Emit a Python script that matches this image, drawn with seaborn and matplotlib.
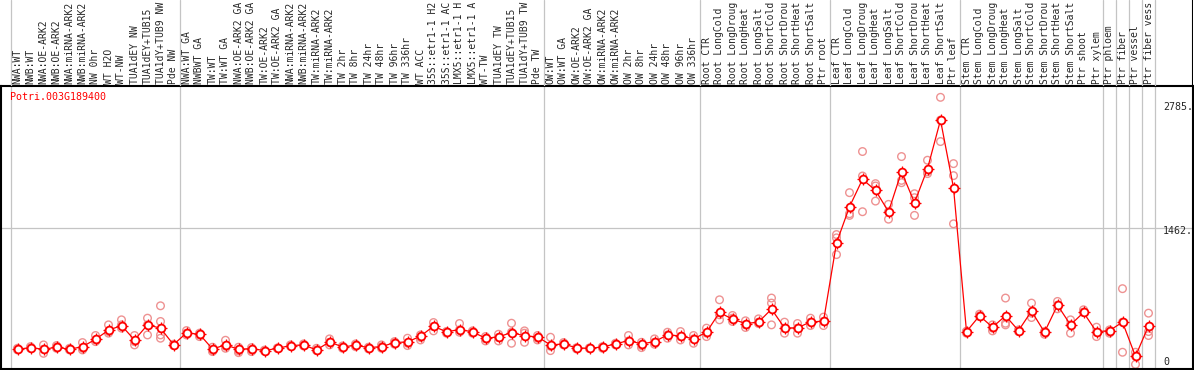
import numpy as np
import pandas as pd
import matplotlib
matplotlib.use("Agg")
import matplotlib.pyplot as plt
import seaborn as sns

gene = "Potri.003G189400"

samples = [
    # group 1
    "NWA:WT", "NWB:WT", "NWA:OE-ARK2", "NWB:OE-ARK2", "NWA:miRNA-ARK2", "NWB:miRNA-ARK2",
    "NW 0hr", "WT H2O", "WT-NW", "TUA1dEY NW", "TUA1dEY+TUB15", "TUA1dY+TUB9 NW", "Pde NW",
    # group 2
    "NWA:WT GA", "NWBWT GA", "TW:WT", "TW:WT GA", "NWA:OE-ARK2 GA", "NWB:OE-ARK2 GA",
    "TW:OE-ARK2", "TW:OE-ARK2 GA", "NWA:miRNA-ARK2 GA", "NWB:miRNA-ARK2 GA", "TW:miRNA-ARK2",
    "TW:miRNA-ARK2 GA", "TW 2hr", "TW 8hr", "TW 24hr", "TW 48hr", "TW 96hr", "TW 336hr", "WT ACC",
    "35S::etr1-1 H2O", "35S::etr1-1 ACC", "LMX5::etr1-1 H2O", "LMX5::etr1-1 ACC", "WT-TW",
    "TUA1dEY TW", "TUA1dEY+TUB15 TW", "TUA1dY+TUB9 TW", "Pde TW",
    # group 3
    "OW:WT", "OW:WT GA", "OW:OE-ARK2", "OW:OE-ARK2 GA", "OW:miRNA-ARK2", "OW:miRNA-ARK2 GA",
    "OW 2hr", "OW 8hr", "OW 24hr", "OW 48hr", "OW 96hr", "OW 336hr",
    # root
    "Root CTR", "Root LongCold", "Root LongDrought", "Root LongHeat", "Root LongSalt",
    "Root ShortCold", "Root ShortDrought", "Root ShortHeat", "Root ShortSalt", "Ptr root",
    # leaf
    "Leaf CTR", "Leaf LongCold", "Leaf LongDrought", "Leaf LongHeat", "Leaf LongSalt",
    "Leaf ShortCold", "Leaf ShortDrought", "Leaf ShortHeat", "Leaf ShortSalt", "Ptr leaf",
    # stem
    "Stem CTR", "Stem LongCold", "Stem LongDrought", "Stem LongHeat", "Stem LongSalt",
    "Stem ShortCold", "Stem ShortDrought", "Stem ShortHeat", "Stem ShortSalt", "Ptr shoot",
    "Ptr xylem",
    # tissues
    "Ptr phloem", "Ptr fiber", "Ptr vessel", "Ptr fiber vessel",
]

# index of first sample of each group (group borders)
group_starts = [0, 13, 41, 53, 63, 73, 84, 85, 86, 87, 88]

mean_expr = [
    204, 221, 204, 225, 204, 231, 307, 401, 449, 300, 456, 422, 252,
    373, 359, 207, 249, 204, 211, 190, 214, 242, 249, 197, 280, 228, 245, 221, 231,
    273, 280, 339, 442, 384, 408, 384, 318, 332, 377, 342, 332,
    249, 259, 218, 214, 228, 259, 294, 259, 283, 352, 342, 311,
    380, 584, 515, 470, 484, 619, 425, 425, 487, 494,
    1303, 1676, 1960, 1846, 1625, 2039, 1718, 2070, 2572, 1873,
    387, 550, 432, 550, 397, 598, 380, 660, 456, 584, 384,
    397, 484, 131, 446,
]

replicates = [
    [197, 204, 214], [231, 214, 218], [249, 204, 162], [242, 228, 214], [214, 197, 204],
    [273, 214, 197], [346, 300, 283], [456, 387, 370], [508, 456, 422], [346, 283, 249],
    [525, 456, 352], [653, 491, 352, 318], [256, 242, 252],
    [397, 370, 352], [370, 352, 335], [225, 190, 180], [297, 235, 214], [225, 187, 169],
    [221, 197, 180], [190, 195, 185], [214, 218, 210], [249, 235, 242], [259, 238, 249],
    [214, 190, 197], [311, 276, 249], [238, 214, 228], [259, 231, 245], [225, 207, 221],
    [249, 214, 231], [283, 256, 273], [318, 266, 242], [352, 325, 300], [480, 439, 394],
    [387, 370, 384], [470, 404, 380], [394, 370, 384], [335, 311, 290], [359, 325, 290],
    [473, 380, 266], [394, 370, 276], [346, 318, 300],
    [328, 235, 190], [273, 249, 259], [218, 207, 218], [214, 210, 218], [228, 214, 230],
    [266, 249, 259], [346, 290, 249], [276, 242, 221], [311, 276, 256], [380, 352, 318],
    [387, 335, 300], [346, 311, 266],
    [422, 370, 335], [715, 560, 508], [553, 525, 491], [498, 456, 429], [518, 484, 470],
    [733, 681, 456], [484, 422, 370], [470, 422, 370], [525, 484, 449], [536, 491, 449],
    [1389, 1355, 1182], [1822, 1604, 1587], [2247, 1994, 1625], [1915, 1891, 1735],
    [1701, 1625, 1548], [2195, 1949, 1925], [1811, 1770, 1587], [2157, 2039, 2019],
    [2807, 2572, 2350], [2122, 1998, 1500],
    [387, 370, 390], [567, 543, 550], [456, 422, 394], [733, 473, 456], [404, 387, 397],
    [681, 577, 532], [387, 359, 380], [698, 622, 660], [508, 456, 370], [612, 588, 584],
    [432, 380, 335],
    [404, 387, 370], [830, 484, 173], [173, 131, 48], [577, 387, 346],
]

y_grid = 1462
y_max = 2924
y_label_vals = [2710, 1424, 73]
y_label_text = ["2785.", "1462.", "0"]

# long-form tables
means_df = pd.DataFrame({"pos": np.arange(len(samples)), "expr": mean_expr})
reps_df = pd.DataFrame(
    [(i, v) for i, reps in enumerate(replicates) for v in reps], columns=["pos", "expr"]
)

sns.set_style("white")
plt.rcParams["font.family"] = ["DejaVu Sans Mono"]

W, H = 1194, 370
fig = plt.figure(figsize=(W / 100, H / 100), dpi=100)

# x mapping: column i centred at pixel 17.5 + 13*i
px_left, px_right = 1, 1193
xlim = ((px_left - 17.5) / 13, (px_right - 17.5) / 13)

top_px, bottom_px = 86, 369
ax = fig.add_axes([px_left / W, (H - bottom_px) / H, (px_right - px_left) / W, (bottom_px - top_px) / H])
hdr = fig.add_axes([px_left / W, (H - top_px) / H, (px_right - px_left) / W, top_px / H])

grid_col = "#c4c4c4"
borders = [g - 0.5 for g in group_starts]

# ---- plot area
for b in borders:
    ax.axvline(b, color=grid_col, lw=0.9, zorder=0)
ax.axhline(y_grid, color=grid_col, lw=0.9, zorder=0)

sns.scatterplot(data=reps_df, x="pos", y="expr", ax=ax, marker="o", s=30,
                facecolor="none", edgecolor="#ee9292", linewidth=1.0, zorder=2, legend=False)
sns.lineplot(data=means_df, x="pos", y="expr", ax=ax, color="red", lw=0.9, zorder=3)
ax.plot(means_df["pos"], means_df["expr"], ls="none", marker="+", ms=8, mew=0.9,
        color="red", zorder=4)
ax.plot(means_df["pos"], means_df["expr"], ls="none", marker="o", ms=5.6, mew=1.3,
        mfc="white", mec="red", zorder=5)

ax.set_xlim(*xlim)
ax.set_ylim(0, y_max)
ax.set_xticks([])
ax.set_yticks([])
ax.set_xlabel("")
ax.set_ylabel("")
for sp in ax.spines.values():
    sp.set_color("black")
    sp.set_linewidth(1.5)

ax.text(9 / (px_right - px_left), 1 - (97 - top_px) / (bottom_px - top_px), gene,
        transform=ax.transAxes, color="red", fontsize=7.2, va="center", ha="left")

x_lab = (1163 - 17.5) / 13
for v, lab in zip(y_label_vals, y_label_text):
    ax.text(x_lab, v, lab, fontsize=7.2, va="center", ha="left")

# ---- header with sample names (only ~14 characters fit above the plot)
hdr.set_xlim(*xlim)
hdr.set_ylim(0, top_px)
hdr.axis("off")
for b in borders:
    hdr.axvline(b, color=grid_col, lw=0.9, zorder=0)
hdr.axvline(xlim[1], color="black", lw=1.5)
for i, name in enumerate(samples):
    hdr.text(i, 2, name[:14].rstrip(), rotation=90, fontsize=7.0, ha="center", va="bottom")

fig.savefig("out.png", dpi=100)
